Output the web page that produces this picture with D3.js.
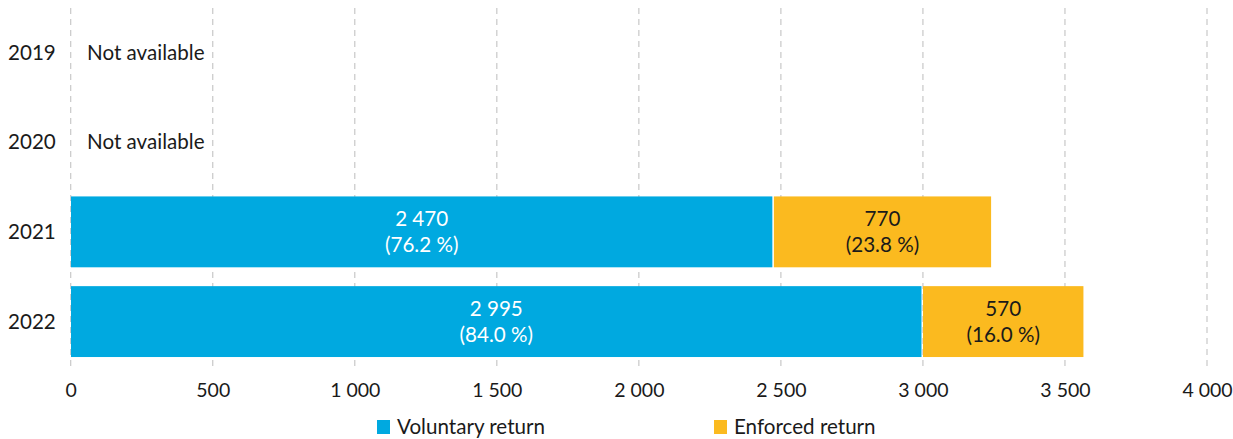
<!DOCTYPE html>
<html>
<head>
<meta charset="utf-8">
<script src="https://cdn.jsdelivr.net/npm/d3@7"></script>
<style>
  body { margin: 0; background: #fff; }
  text { font-family: Lato, "Noto Sans", sans-serif; font-size: 20.6px; fill: #1a1a1a; }
</style>
</head>
<body>
<script>
// Data
var years = ["2019", "2020", "2021", "2022"];
var voluntary = [null, null, 2470, 2995];
var enforced = [null, null, 770, 570];
var voluntaryPct = [null, null, "76.2", "84.0"];
var enforcedPct = [null, null, "23.8", "16.0"];
var xTicks = [0, 500, 1000, 1500, 2000, 2500, 3000, 3500, 4000];
var seriesNames = ["Voluntary return", "Enforced return"];
var colors = ["#00a9e0", "#fbba1f"];

var width = 1233, height = 439;
var left = 70.7, right = 1207;

var fmt = function(v) { return d3.format(",")(v).replace(/,/g, " "); };

var svg = d3.select("body").append("svg")
    .attr("width", width)
    .attr("height", height);

// Scales
var x = d3.scaleLinear().domain([0, 4000]).range([left, right]);
var y = d3.scaleBand().domain(years).range([8, 366]).paddingInner(0.21).paddingOuter(0.1);

// Gridlines
svg.append("g")
    .selectAll("line")
    .data(xTicks)
    .enter()
    .append("line")
        .attr("x1", d => x(d)).attr("x2", d => x(d))
        .attr("y1", 8).attr("y2", 366)
        .attr("stroke", "#c8c8c8")
        .attr("stroke-width", 1.2)
        .attr("stroke-dasharray", "6,5");

// x axis labels
var xaxis = svg.append("g")
    .attr("transform", "translate(0,366)")
    .call(d3.axisBottom(x).tickValues(xTicks).tickSize(0).tickPadding(17).tickFormat(fmt));
xaxis.select(".domain").remove();
xaxis.selectAll("text").style("font-size", "19.5px").style("font-family", "Lato, 'Noto Sans', sans-serif").attr("fill", "#1a1a1a");

// Year labels
svg.append("g")
    .selectAll("text")
    .data(years)
    .enter()
    .append("text")
        .attr("x", 8)
        .attr("y", d => y(d) + y.bandwidth() / 2)
        .attr("dy", "0.35em")
        .text(d => d);

// Not available labels
svg.append("g")
    .selectAll("text")
    .data(years.filter((d, i) => voluntary[i] === null))
    .enter()
    .append("text")
        .attr("x", 87)
        .attr("y", d => y(d) + y.bandwidth() / 2)
        .attr("dy", "0.35em")
        .text("Not available");

// Bars
var rows = years.map(function(d, i) {
    return { year: d, v: voluntary[i], e: enforced[i], vp: voluntaryPct[i], ep: enforcedPct[i] };
}).filter(d => d.v !== null);

var gap = 1.5;
rows.forEach(function(d) {
    var segs = [
        { x0: 0, x1: d.v, val: d.v, pct: d.vp, color: colors[0], txt: "#ffffff" },
        { x0: d.v, x1: d.v + d.e, val: d.e, pct: d.ep, color: colors[1], txt: "#1a1a1a" }
    ];
    segs.forEach(function(s, j) {
        var xs = x(s.x0) + (j > 0 ? gap : 0.3);
        var xe = x(s.x1);
        svg.append("rect")
            .attr("x", xs)
            .attr("y", y(d.year))
            .attr("width", xe - xs)
            .attr("height", y.bandwidth())
            .attr("fill", s.color);
        var cx = (xs + xe) / 2;
        var cy = y(d.year) + y.bandwidth() / 2;
        svg.append("text")
            .attr("x", cx).attr("y", cy - 13)
            .attr("dy", "0.35em")
            .attr("text-anchor", "middle")
            .style("fill", s.txt)
            .text(fmt(s.val));
        svg.append("text")
            .attr("x", cx).attr("y", cy + 13)
            .attr("dy", "0.35em")
            .attr("text-anchor", "middle")
            .style("fill", s.txt)
            .text("(" + s.pct + " %)");
    });
});

// Legend
var legendX = [377, 714];
var legend = svg.append("g")
    .selectAll("g")
    .data(seriesNames)
    .enter()
    .append("g")
        .attr("transform", (d, i) => "translate(" + legendX[i] + ",420)");
legend.append("rect")
    .attr("width", 13).attr("height", 14)
    .attr("fill", (d, i) => colors[i]);
legend.append("text")
    .attr("x", 20).attr("y", 7)
    .attr("dy", "0.35em")
    .text(d => d);
</script>
</body>
</html>
